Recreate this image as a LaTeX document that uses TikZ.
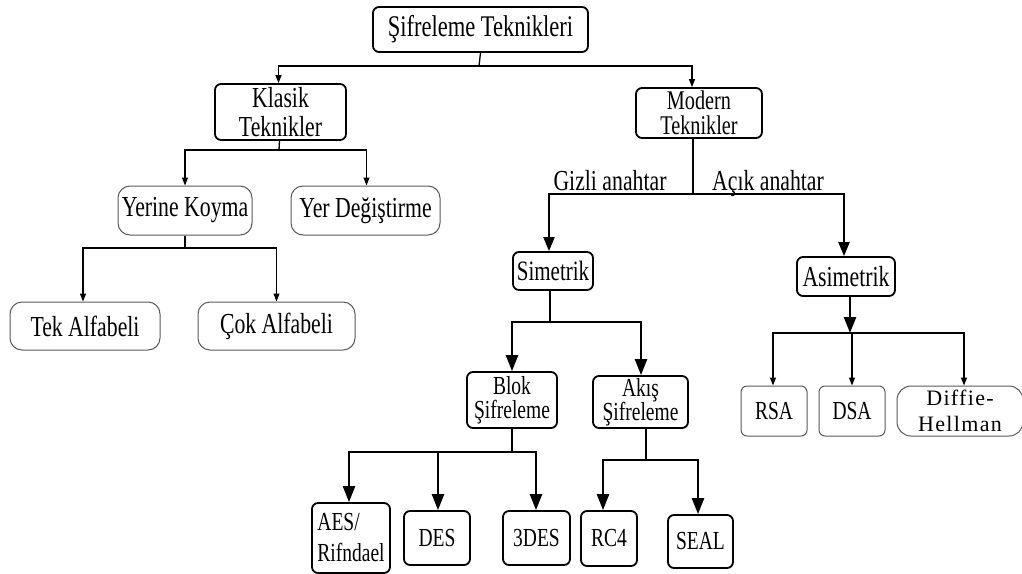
\documentclass[tikz,border=0pt]{standalone}
\usepackage{fontspec}
\setmainfont{Liberation Serif}[FakeStretch=0.75]
\newfontfamily\wideserif{Liberation Serif}[LetterSpace=6]
\usetikzlibrary{arrows.meta}
\begin{document}
\begin{tikzpicture}[x=1pt,y=-1pt,
  boxthick/.style={draw=black, line width=1.8pt, rounded corners=6pt, inner sep=0pt, align=center},
  boxthin/.style={draw=black!65, line width=1pt, rounded corners=12pt, inner sep=0pt, align=center},
  fs/.style={font=\fontsize{#1}{#1}\selectfont},
  thinline/.style={line width=1.3pt},
  thickline/.style={line width=2.4pt},
  smallarr/.style={-{Triangle[length=8pt,width=6pt]}},
  midarr/.style={-{Triangle[length=14pt,width=11pt]}},
  bigarr/.style={-{Triangle[length=16pt,width=12pt]}},
  lbl/.style={inner sep=0pt, font=\fontsize{29}{29}\selectfont}
]
\useasboundingbox (0,0) rectangle (1022,573);

% ---- nodes ----
\node[boxthick, fs=30, minimum width=215, minimum height=45] (root) at (480.5,29.5) {Şifreleme Teknikleri};
\node[boxthick, font=\fontsize{29}{29}\selectfont, minimum width=131, minimum height=56] (klasik) at (280.5,112) {Klasik\\Teknikler};
\node[boxthick, font=\fontsize{27}{25}\selectfont, minimum width=126, minimum height=50] (modern) at (699,113) {Modern\\Teknikler};

\node[boxthin, fs=29, minimum width=134, minimum height=49] (yerine) at (185,210.5) {Yerine Koyma};
\node[boxthin, fs=29, minimum width=149, minimum height=49] (yer) at (365.5,210.5) {Yer Değiştirme};
\node[boxthin, fs=29, minimum width=150, minimum height=48] (tek) at (85,326) {Tek Alfabeli};
\node[boxthin, fs=29, minimum width=157, minimum height=48] (cok) at (276.5,326) {Çok Alfabeli};

\node[lbl, anchor=base] (gizli) at (610,190) {Gizli anahtar};
\node[lbl, anchor=base] (acik) at (768,190) {Açık anahtar};

\node[boxthick, fs=28, minimum width=80, minimum height=38] (simetrik) at (553,271) {Simetrik};
\node[boxthick, fs=29, minimum width=98, minimum height=39] (asimetrik) at (846,276.5) {Asimetrik};

\node[boxthick, font=\fontsize{26}{24}\selectfont, minimum width=90, minimum height=56] (blok) at (512,400) {Blok\\Şifreleme};
\node[boxthick, font=\fontsize{26}{24}\selectfont, minimum width=95, minimum height=52] (akis) at (640.5,402) {Akış\\Şifreleme};

\node[boxthick, font=\fontsize{26}{31}\selectfont, align=left, minimum width=78, minimum height=70] (aes) at (351,538) {AES/\\Rifndael};
\node[boxthick, fs=26, minimum width=66, minimum height=54] (des) at (437,538) {DES};
\node[boxthick, fs=26, minimum width=67, minimum height=54] (tdes) at (536.5,538) {3DES};
\node[boxthick, fs=26, minimum width=56, minimum height=55] (rc4) at (609,538.5) {RC4};
\node[boxthick, fs=26, minimum width=65, minimum height=53] (seal) at (700.5,541.5) {SEAL};

\node[boxthin, rounded corners=6pt, fs=26, minimum width=66, minimum height=50] (rsa) at (774,411) {RSA};
\node[boxthin, rounded corners=6pt, fs=26, minimum width=66, minimum height=50] (dsa) at (852,411) {DSA};
\node[boxthin, rounded corners=14pt, font=\wideserif\fontsize{22}{26}\selectfont, minimum width=126, minimum height=50] (diffie) at (960,411) {Diffie-\\Hellman};

% ---- connectors ----
% root
\coordinate (j1) at (479,66);
\draw[thinline] (root.south) -- (j1);
\draw[thinline, smallarr] (j1) -| ([xshift=-2pt]klasik.north);
\draw[thinline, smallarr] (j1) -| ([xshift=-7pt]modern.north);

% classical branch
\coordinate (j2) at (279,150);
\draw[thinline] ([xshift=-1pt]klasik.south) -- (j2);
\draw[thinline, smallarr] (j2) -| (yerine.north);
\draw[thinline, smallarr] (j2) -| ([xshift=1pt]yer.north);

\coordinate (j3) at (185,248);
\draw[thinline] (yerine.south) -- (j3);
\draw[thinline, smallarr] (j3) -| ([xshift=-2pt]tek.north);
\draw[thinline, smallarr] (j3) -| (cok.north);

% modern branch
\coordinate (j4) at (693,194);
\draw[line width=2pt] ([xshift=-6pt]modern.south) -- (j4);
\draw[line width=2pt, midarr] (j4) -| ([xshift=-4pt]simetrik.north);
\draw[line width=2pt, midarr] (j4) -| ([xshift=-2pt]asimetrik.north);

% symmetric
\coordinate (j5) at (550,322);
\draw[thickline] ([xshift=-3pt]simetrik.south) -- (j5);
\draw[thickline, bigarr] (j5) -| (blok.north);
\draw[thickline, bigarr] (j5) -| ([xshift=0.5pt]akis.north);

\coordinate (j6) at (512,452);
\draw[thickline] (blok.south) -- (j6);
\draw[thickline, bigarr] (j6) -| ([xshift=-2pt]aes.north);
\draw[thickline, bigarr] (j6) -| ([xshift=1pt]des.north);
\draw[thickline, bigarr] (j6) -| ([xshift=-0.5pt]tdes.north);

\coordinate (j7) at (646,460);
\draw[thickline] ([xshift=5.5pt]akis.south) -- (j7);
\draw[thickline, bigarr] (j7) -| ([xshift=-6pt]rc4.north);
\draw[thickline, bigarr] (j7) -| ([xshift=-2.5pt]seal.north);

% asymmetric
\coordinate (j8) at (850,333);
\draw[line width=2.4pt, bigarr] ([xshift=4pt]asimetrik.south) -- (j8);
\draw[thinline, smallarr] (j8) -| ([xshift=-1pt]rsa.north);
\draw[thinline, smallarr] (j8) -| (dsa.north);
\draw[thinline, smallarr] (j8) -| ([xshift=4pt]diffie.north);
\end{tikzpicture}
\end{document}
